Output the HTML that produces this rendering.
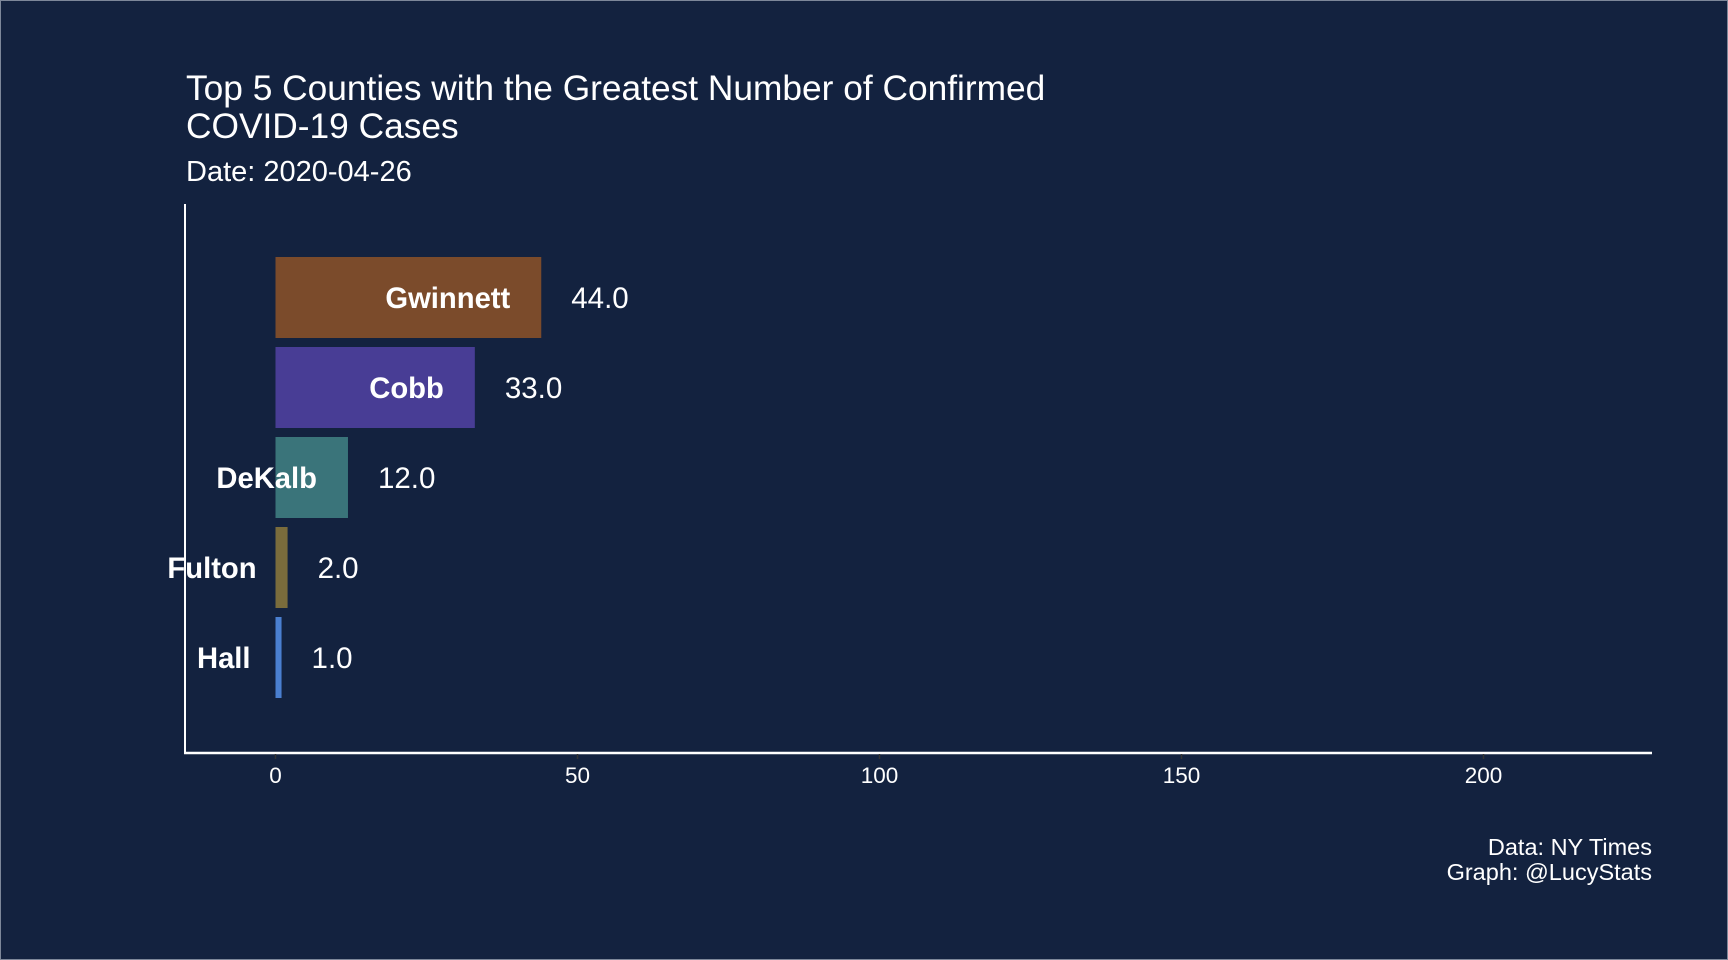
<!DOCTYPE html>
<html><head><meta charset="utf-8"><style>
html,body{margin:0;padding:0;background:#13223f;}
svg{display:block;font-family:"Liberation Sans",Arial,sans-serif;}
</style></head><body>
<svg id="chart" width="1728" height="960">
<rect x="0.5" y="0.5" width="1727" height="959" fill="#13223f" stroke="#7d8799" stroke-width="1"/>
<text x="186" y="100" font-size="35.3" fill="#fff">Top 5 Counties with the Greatest Number of Confirmed</text>
<text x="186" y="138" font-size="35.3" fill="#fff">COVID-19 Cases</text>
<text x="186" y="181" font-size="29" fill="#fff">Date: 2020-04-26</text>
<line x1="185" y1="204" x2="185" y2="754" stroke="#fff" stroke-width="2"/>
<line x1="184" y1="753" x2="1652" y2="753" stroke="#fff" stroke-width="2.5"/>
<g id="bars"></g>
<g id="ticks"></g>
<text x="1652" y="855" font-size="23.5" fill="#fff" text-anchor="end">Data: NY Times</text>
<text x="1652" y="880" font-size="23.5" fill="#fff" text-anchor="end">Graph: @LucyStats</text>
</svg>
<script>
const counties = ["Gwinnett","Cobb","DeKalb","Fulton","Hall"];
const cases = [44, 33, 12, 2, 1];
const barColors = ["#7b4b2b","#483d95","#3a747a","#7a6c3c","#4a7fd0"];
const tickValues = [0,50,100,150,200];
const NS="http://www.w3.org/2000/svg";
const x0=275.5, unit=6.04;
function xs(v){return x0+v*unit;}
function yTop(i){return 257+i*90;}
const barH=81;
const gb=document.getElementById('bars');
counties.forEach((c,i)=>{
  const r=document.createElementNS(NS,'rect');
  r.setAttribute('x',xs(0));r.setAttribute('y',yTop(i));
  r.setAttribute('width',xs(cases[i])-xs(0));r.setAttribute('height',barH);
  r.setAttribute('fill',barColors[i]);
  
  
  gb.appendChild(r);
  const cy=yTop(i)+barH/2+10.5;
  const t=document.createElementNS(NS,'text');
  t.setAttribute('x',xs(cases[i])-31);t.setAttribute('y',cy);
  t.setAttribute('text-anchor','end');t.setAttribute('font-size','29.2');
  t.setAttribute('font-weight','bold');t.setAttribute('fill','#fff');
  t.textContent=c;
  
  
  gb.appendChild(t);
  const v=document.createElementNS(NS,'text');
  v.setAttribute('x',xs(cases[i])+30);v.setAttribute('y',cy);
  v.setAttribute('font-size','29.5');v.setAttribute('fill','#fff');
  v.textContent=cases[i].toFixed(1);
  
  
  gb.appendChild(v);
});
const gt=document.getElementById('ticks');
tickValues.forEach(tv=>{
  const l=document.createElementNS(NS,'line');
  l.setAttribute('x1',xs(tv));l.setAttribute('x2',xs(tv));
  l.setAttribute('y1',754);l.setAttribute('y2',759);
  l.setAttribute('stroke','#333');l.setAttribute('stroke-width','1.5');
  
  
  gt.appendChild(l);
  const t=document.createElementNS(NS,'text');
  t.setAttribute('x',xs(tv));t.setAttribute('y',783);
  t.setAttribute('text-anchor','middle');t.setAttribute('font-size','22.5');
  t.setAttribute('fill','#fff');t.textContent=tv;
  
  
  gt.appendChild(t);
});
</script>
</body></html>
